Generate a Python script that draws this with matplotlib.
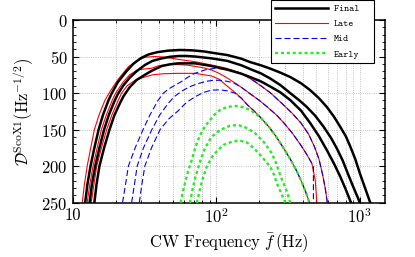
import matplotlib
matplotlib.use('Agg')
import matplotlib.pyplot as plt
from matplotlib.ticker import MultipleLocator, LogLocator, NullFormatter

plt.rcParams['font.family'] = 'serif'
plt.rcParams['font.serif'] = ['cmr10']
plt.rcParams['mathtext.fontset'] = 'cm'
plt.rcParams['axes.formatter.use_mathtext'] = True

# curves: frequency (Hz) and depth D
final_1_f = [12.25, 12.7, 13.35, 14.2, 15.2, 16.3, 17.8, 18.8, 20.7, 23.8, 26.5, 30, 34, 39, 46, 56, 68, 82, 93,
             120, 150, 172, 205, 238, 280, 328, 390, 452, 520, 590, 660, 731, 800, 859, 930, 1003, 1090, 1184]
final_1_d = [250, 225, 200, 175, 150, 130, 110, 100, 85, 70, 60, 52, 47, 44, 42, 41, 41.5, 43, 44.7,
             48, 53, 57.5, 62, 66.5, 72, 78, 86.5, 96, 107, 119, 132, 146, 159, 173, 190, 210, 230, 250]
final_2_f = [13.15, 13.65, 14.4, 15.4, 16.6, 17.9, 19.5, 20.6, 22.5, 25, 28, 31.9, 36, 41.8, 48, 54.6, 62, 71.4, 93,
             120, 150, 172, 205, 238, 280, 328, 380, 428, 490, 560, 630, 694, 760, 830, 900, 960, 1003]
final_2_d = [250, 225, 200, 175, 150, 130, 112, 102, 90, 79, 70, 61.6, 56, 52.5, 50.3, 49.3, 49.2, 50, 52.5,
             56, 62, 67, 73, 80, 89, 100, 110, 119, 131, 146, 161, 176, 192, 211, 228, 241, 250]
final_3_f = [14.2, 14.7, 15.4, 16.6, 18.1, 19.6, 21.5, 22.7, 25, 28, 31.9, 36, 41.8, 48, 54.6, 71.4, 93,
             120, 150, 172, 205, 238, 280, 328, 390, 452, 520, 590, 660, 731, 800, 870]
final_3_d = [250, 225, 200, 175, 150, 130, 113, 104, 92, 82, 75, 69, 63, 60.5, 59.3, 59.3, 63,
             68, 73.5, 78, 84, 91, 99, 109.5, 124, 141, 159, 178, 196, 214, 232, 250]

late_1_f = [11.7, 12.1, 12.65, 13.4, 14.2, 15.3, 16.8, 18.5, 21, 24.5, 28, 32, 37, 42, 48, 55, 71, 93,
            118, 145, 172, 205, 240, 294, 340, 390, 440, 483, 520, 552, 575, 595]
late_1_d = [250, 225, 200, 175, 150, 130, 110, 96, 80, 64, 56, 51, 50, 50.5, 52, 54, 57, 61.6,
            66, 72, 80, 90, 100, 116, 128, 141, 156, 173, 190, 212, 230, 250]
late_2_f = [12.65, 13.2, 13.9, 14.85, 15.9, 17.2, 18.9, 20, 22.5, 25, 28.5, 35.6, 40, 47, 54.6, 63, 71.4, 82, 93,
            105, 118.7, 140, 172.6, 200, 226, 260, 294, 340, 385, 425, 464, 490, 503]
late_2_d = [250, 225, 200, 175, 150, 130, 110, 100, 85, 75, 68, 66, 62.5, 61.2, 61, 61.8, 63.5, 65.5, 68.4,
            73, 79, 88, 101, 110, 118.6, 129, 140, 155, 170, 183, 196, 219, 250]
late_3_f = [13.5, 14.1, 14.75, 15.9, 17.3, 18.8, 20.8, 22, 24, 27.5, 31.9, 36, 43, 54.6, 71.4, 93, 105,
            118.7, 135, 150, 165, 185, 203, 235, 265, 294, 330, 365, 395, 420, 447]
late_3_d = [250, 225, 200, 175, 150, 130, 110, 100, 90, 82, 78, 75, 73.5, 73, 73, 76.6, 81,
            90, 99, 107, 116, 125, 133, 147, 161, 175, 191, 207, 222, 235, 250]

mid_1_f = [22.3, 23.4, 24.5, 27.3, 31, 34.6, 39.4, 43, 47, 52, 57.6, 64, 70, 83.5, 98, 119, 140, 160, 180,
           205, 240, 294, 340, 390, 440, 483, 520, 552, 575, 595]
mid_1_d = [250, 225, 200, 175, 150, 130, 110, 100, 94, 89, 84, 78, 73.5, 68.4, 66, 67.5, 71, 76, 82,
           90, 100, 116, 128, 141, 156, 173, 190, 212, 230, 250]
mid_2_f = [25.8, 27, 28.2, 31.2, 35.7, 40.5, 46, 51, 58, 66, 75, 85, 95, 107, 120, 132, 150,
           172.6, 200, 226, 260, 294, 340, 385, 425, 464, 476, 476]
mid_2_d = [250, 225, 200, 175, 150, 130, 115, 105, 97, 91, 87, 84, 82.5, 82.5, 84, 86, 92,
           101, 110, 118.6, 129, 140, 155, 170, 183, 196, 200, 250]
mid_3_f = [29.2, 30.4, 31.9, 35.5, 40.7, 47, 54.6, 62, 71.4, 82, 93, 106, 120, 135, 150, 165, 185,
           203, 235, 265, 294, 330, 365, 395, 420, 447]
mid_3_d = [250, 225, 200, 175, 150, 135, 124, 113, 105, 99, 96, 95.5, 97, 100, 107, 116, 125,
           133, 147, 161, 175, 191, 207, 222, 235, 250]

early_1_f = [56.6, 58.5, 60.8, 64, 67.7, 72, 77.3, 84, 90.8, 98, 106.7, 116, 125, 139.4, 155, 172.6,
             203, 235, 265, 294, 330, 365, 395, 420, 447]
early_1_d = [250, 236, 223, 206, 191.6, 173, 157.4, 145, 136.8, 129, 123, 120, 118.5, 117.7, 119.5, 123,
             133, 147, 161, 175, 191, 207, 222, 235, 250]
early_2_f = [65.7, 68.5, 71.4, 77.3, 83.5, 93, 106.7, 125, 143, 165, 187, 215, 244, 262, 279, 296, 311, 320, 328]
early_2_d = [250, 232, 216.6, 193.9, 175.6, 159.7, 150.5, 144.6, 143.7, 148, 155, 167, 182.4, 196, 212, 224, 235, 243, 250]
early_3_f = [73.4, 76.5, 79.5, 86.0, 95.6, 112.2, 128.6, 147, 165, 185, 208, 238, 252, 265, 284, 303]
early_3_d = [250, 235, 221.2, 200.7, 184.7, 171, 166.5, 165, 168, 176, 187, 200.7, 211, 223.5, 237, 250]

fig = plt.figure(figsize=(4.15, 2.57), dpi=100)
ax = fig.add_axes([72.5 / 415, 1 - 202.7 / 257, (385 - 72.5) / 415, (202.7 - 20) / 257])

late_style = dict(color='red', lw=0.8)
mid_style = dict(color='blue', lw=0.8, dashes=(5.4, 2.7))
early_style = dict(color='#22ee22', lw=1.7, dashes=(1.3, 1.2))
final_style = dict(color='black', lw=1.8)

# red under blue, green on top of both, black over everything
for f, d in [(late_1_f, late_1_d), (late_2_f, late_2_d), (late_3_f, late_3_d)]:
    ax.plot(f, d, zorder=2, **late_style)
for f, d in [(mid_1_f, mid_1_d), (mid_2_f, mid_2_d), (mid_3_f, mid_3_d)]:
    ax.plot(f, d, zorder=3, **mid_style)
for f, d in [(early_1_f, early_1_d), (early_2_f, early_2_d), (early_3_f, early_3_d)]:
    ax.plot(f, d, zorder=4, **early_style)
for f, d in [(final_1_f, final_1_d), (final_2_f, final_2_d), (final_3_f, final_3_d)]:
    ax.plot(f, d, zorder=5, **final_style)

ax.set_xscale('log')
ax.set_xlim(10, 1500)
ax.set_ylim(250, 0)
ax.set_xticks([10, 100, 1000])
ax.set_xticklabels(['10', r'$10^2$', r'$10^3$'])
ax.xaxis.set_minor_locator(LogLocator(base=10, subs=range(2, 10)))
ax.xaxis.set_minor_formatter(NullFormatter())
ax.yaxis.set_major_locator(MultipleLocator(50))
ax.yaxis.set_minor_locator(MultipleLocator(10))
ax.tick_params(which='both', direction='in', top=True, right=True, labelsize=12)
ax.tick_params(which='major', length=4, width=0.8)
ax.tick_params(which='minor', length=2.5, width=0.6)
ax.grid(True, which='major', axis='both', color='#b0b0b0', ls=':', lw=0.6)
ax.grid(True, which='minor', axis='x', color='#b0b0b0', ls=':', lw=0.6)
for s in ax.spines.values():
    s.set_linewidth(1.1)

ax.set_xlabel(r'CW Frequency $\bar{f}\,(\mathrm{Hz})$', fontsize=12)
ax.set_ylabel(r'$\mathcal{D}^{\mathrm{ScoX1}}(\mathrm{Hz}^{-1/2})$', fontsize=12)

h1, = ax.plot([], [], **final_style)
h2, = ax.plot([], [], **late_style)
h3, = ax.plot([], [], **mid_style)
h4, = ax.plot([], [], **early_style)
leg = fig.legend([h1, h2, h3, h4], ['Final  ', 'Late', 'Mid', 'Early'],
                 loc='upper right', bbox_to_anchor=(373.5 / 415, 1.0),
                 prop={'family': 'cmtt10', 'size': 7},
                 handlelength=5.4, handletextpad=0.6, borderpad=0.45, labelspacing=0.65,
                 fancybox=False, edgecolor='black', framealpha=1, borderaxespad=0)
leg.get_frame().set_linewidth(0.8)
leg.set_zorder(10)

fig.savefig('out.png', dpi=100)
